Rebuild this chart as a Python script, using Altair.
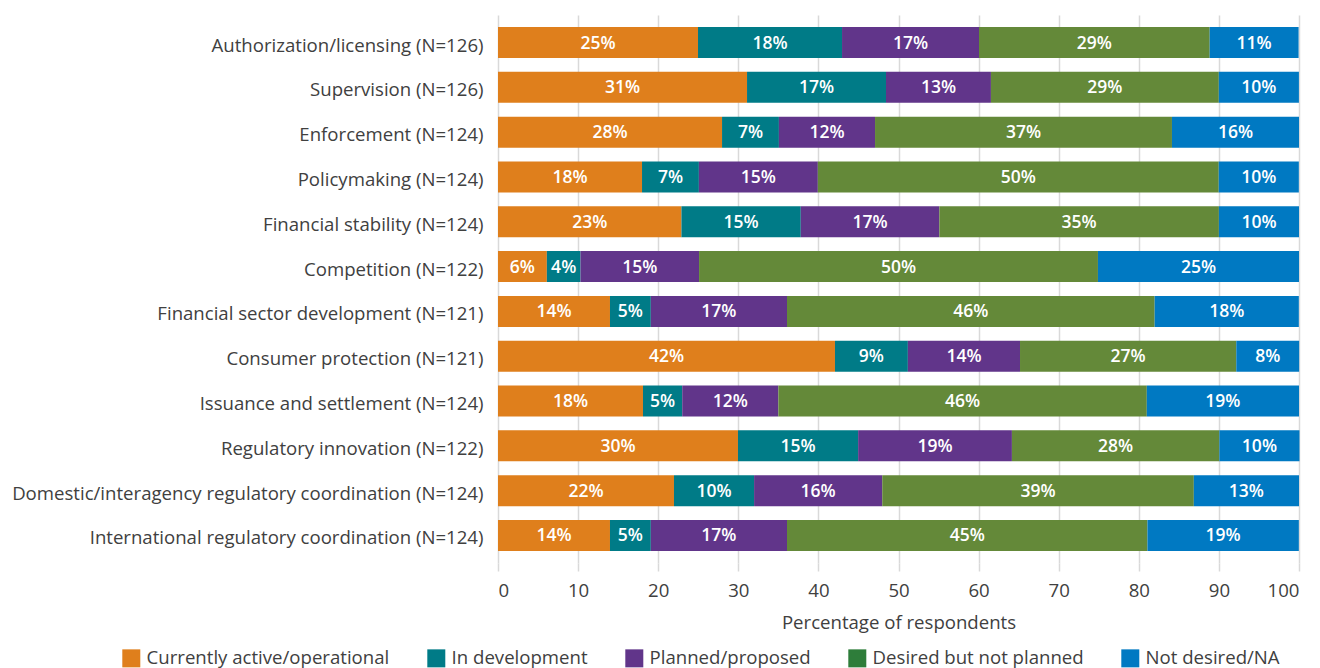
import altair as alt
import pandas as pd

categories = [
    "Authorization/licensing (N=126)",
    "Supervision (N=126)",
    "Enforcement (N=124)",
    "Policymaking (N=124)",
    "Financial stability (N=124)",
    "Competition (N=122)",
    "Financial sector development (N=121)",
    "Consumer protection (N=121)",
    "Issuance and settlement (N=124)",
    "Regulatory innovation (N=122)",
    "Domestic/interagency regulatory coordination (N=124)",
    "International regulatory coordination (N=124)",
]

series = [
    "Currently active/operational",
    "In development",
    "Planned/proposed",
    "Desired but not planned",
    "Not desired/NA",
]

# bar widths (percent)
active = [24.97, 31.09, 27.97, 17.98, 22.9, 6.1, 13.98, 42.07, 18.1, 29.96, 21.97, 13.98]
in_dev = [17.98, 17.35, 7.1, 7.1, 14.9, 4.2, 5.1, 9.1, 4.9, 15.0, 10.0, 5.1]
planned = [17.1, 13.1, 12.0, 14.85, 17.3, 14.8, 17.0, 14.0, 12.0, 19.2, 16.0, 17.0]
desired = [28.8, 28.45, 37.07, 50.05, 34.9, 49.8, 45.9, 27.0, 46.0, 25.9, 38.9, 45.0]
not_desired = [11.1, 10.0, 15.86, 10.0, 10.0, 25.1, 18.0, 7.85, 19.0, 10.0, 13.13, 18.9]

# printed labels
active_lbl = [25, 31, 28, 18, 23, 6, 14, 42, 18, 30, 22, 14]
in_dev_lbl = [18, 17, 7, 7, 15, 4, 5, 9, 5, 15, 10, 5]
planned_lbl = [17, 13, 12, 15, 17, 15, 17, 14, 12, 19, 16, 17]
desired_lbl = [29, 29, 37, 50, 35, 50, 46, 27, 46, 28, 39, 45]
not_desired_lbl = [11, 10, 16, 10, 10, 25, 18, 8, 19, 10, 13, 19]

bar_colors = ["#DF7F1C", "#007B87", "#61358A", "#648939", "#0079C2"]
legend_colors = ["#DF7F1C", "#007B87", "#61358A", "#2E7D3A", "#0079C2"]

vals = [active, in_dev, planned, desired, not_desired]
lbls = [active_lbl, in_dev_lbl, planned_lbl, desired_lbl, not_desired_lbl]

rows = []
for si, s in enumerate(series):
    for ci, c in enumerate(categories):
        rows.append({"cat": c, "series": s, "legend_series": s, "idx": si,
                     "value": vals[si][ci], "label": f"{lbls[si][ci]}%"})
df = pd.DataFrame(rows)

FONT = "Open Sans"
FS = 18.6

base = alt.Chart(df).transform_stack(
    stack="value", groupby=["cat"], as_=["x0", "x1"], sort=[alt.SortField("idx")]
).transform_calculate(mid="(datum.x0 + datum.x1) / 2")

y_enc = alt.Y("cat:N", sort=categories,
              scale=alt.Scale(paddingInner=0.308, paddingOuter=0.268),
              axis=alt.Axis(title=None, ticks=False, domain=False,
                            labelFontSize=FS, labelColor="#404040",
                            labelPadding=15, labelOffset=3,
                            labelFont=FONT, labelLimit=600))

bars = base.mark_bar().encode(
    x=alt.X("x0:Q", scale=alt.Scale(domain=[0, 100], nice=False),
            axis=alt.Axis(values=list(range(0, 101, 10)), grid=True,
                          gridColor="#D9D9D9", gridWidth=1.5,
                          tickColor="#D9D9D9", tickWidth=1.5, tickSize=8,
                          domain=False, labelFontSize=FS, labelColor="#404040",
                          labelPadding=10, labelFont=FONT,
                          title="Percentage of respondents", titleFontSize=FS,
                          titleFontWeight="normal", titleColor="#404040",
                          titleFont=FONT, titlePadding=14)),
    x2="x1:Q",
    y=y_enc,
    fill=alt.Fill("series:N", sort=series,
                  scale=alt.Scale(domain=series, range=bar_colors), legend=None),
)

texts = base.mark_text(color="white", fontSize=17.5, fontWeight=600, font=FONT,
                       baseline="middle", align="center", dy=1).encode(
    x="mid:Q",
    y=alt.Y("cat:N", sort=categories),
    text="label:N",
)

legend_layer = alt.Chart(df).mark_square(opacity=0).encode(
    x=alt.X("value:Q"),
    y=alt.Y("cat:N", sort=categories),
    color=alt.Color("legend_series:N", sort=series,
                    scale=alt.Scale(domain=series, range=legend_colors),
                    legend=alt.Legend(title=None, orient="none", direction="horizontal",
                                      legendX=-376, legendY=634,
                                      symbolType="square", symbolSize=324,
                                      symbolOpacity=1, symbolStrokeWidth=0,
                                      labelFontSize=FS, labelColor="#404040",
                                      labelFont=FONT, labelOffset=6,
                                      columnPadding=37, padding=0,
                                      labelLimit=400)),
)

chart = alt.layer(bars, texts, legend_layer).resolve_scale(
    color="independent", fill="independent"
).properties(
    width=801, height=548,
    autosize=alt.AutoSizeParams(type="none"),
    padding={"left": 498, "top": 15, "right": 21, "bottom": 105},
).configure_view(stroke=None)

chart.save("out.html", embed_options={"renderer": "svg", "actions": False})
